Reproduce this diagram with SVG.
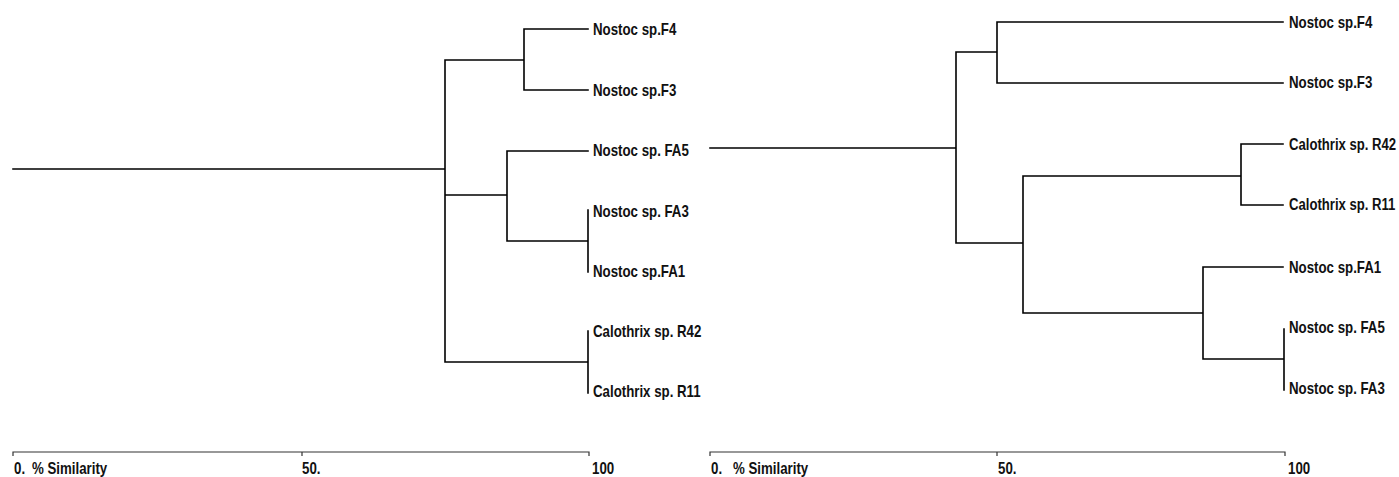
<svg xmlns="http://www.w3.org/2000/svg" width="1399" height="477" viewBox="0 0 1399 477">
<style>
.ln{fill:none;stroke:#000;stroke-width:1.6;stroke-linecap:square}
.ax{fill:none;stroke:#333;stroke-width:1.2}
.lb{font-family:"Liberation Sans",Arial,sans-serif;font-weight:bold;font-size:16px;fill:#111}
</style>
<rect width="1399" height="477" fill="#fff"/>
<g id="connectors">
<path class="ln" d="M13 169H445M445 60V362M445 60H524M524 29V90M524 29H588M524 90H588M445 195H507M507 151V241M507 151H588M507 241H588M588 210V272M445 362H588M588 331V393"/>
<path class="ln" d="M710 148H956M956 52V243M956 52H997M997 22V83M997 22H1283M997 83H1283M956 243H1023M1023 176V313M1023 176H1241M1241 144V205M1241 144H1283M1241 205H1283M1023 313H1203M1203 267V359M1203 267H1283M1203 359H1284M1284 329V390"/>
</g>
<g id="axis-left">
<path class="ax" d="M13 456V452H589V456M302 452V456"/>
<text class="lb" transform="translate(14 474) scale(0.83 1)">0.</text>
<text class="lb" transform="translate(32 474) scale(0.83 1)">% Similarity</text>
<text class="lb" transform="translate(302 474) scale(0.83 1)">50.</text>
<text class="lb" transform="translate(592 474) scale(0.83 1)">100</text>
</g>
<g id="axis-right">
<path class="ax" d="M710 456V452H1285V456M997 452V456"/>
<text class="lb" transform="translate(711 474) scale(0.83 1)">0.</text>
<text class="lb" transform="translate(733 474) scale(0.83 1)">% Similarity</text>
<text class="lb" transform="translate(998 474) scale(0.83 1)">50.</text>
<text class="lb" transform="translate(1288 474) scale(0.83 1)">100</text>
</g>
<g id="left-F4"><text class="lb" transform="translate(593 35) scale(0.83 1)">Nostoc sp.F4</text></g>
<g id="left-F3"><text class="lb" transform="translate(593 96) scale(0.83 1)">Nostoc sp.F3</text></g>
<g id="left-FA5"><text class="lb" transform="translate(593 156) scale(0.83 1)">Nostoc sp. FA5</text></g>
<g id="left-FA3"><text class="lb" transform="translate(593 217) scale(0.83 1)">Nostoc sp. FA3</text></g>
<g id="left-FA1"><text class="lb" transform="translate(593 277) scale(0.83 1)">Nostoc sp.FA1</text></g>
<g id="left-R42"><text class="lb" transform="translate(593 337) scale(0.83 1)">Calothrix sp. R42</text></g>
<g id="left-R11"><text class="lb" transform="translate(593 397) scale(0.83 1)">Calothrix sp. R11</text></g>
<g id="right-F4"><text class="lb" transform="translate(1289 28) scale(0.83 1)">Nostoc sp.F4</text></g>
<g id="right-F3"><text class="lb" transform="translate(1289 88) scale(0.83 1)">Nostoc sp.F3</text></g>
<g id="right-R42"><text class="lb" transform="translate(1289 150) scale(0.82 1)">Calothrix sp. R42</text></g>
<g id="right-R11"><text class="lb" transform="translate(1289 210) scale(0.82 1)">Calothrix sp. R11</text></g>
<g id="right-FA1"><text class="lb" transform="translate(1289 273) scale(0.83 1)">Nostoc sp.FA1</text></g>
<g id="right-FA5"><text class="lb" transform="translate(1289 333) scale(0.83 1)">Nostoc sp. FA5</text></g>
<g id="right-FA3"><text class="lb" transform="translate(1289 394) scale(0.83 1)">Nostoc sp. FA3</text></g>
</svg>
